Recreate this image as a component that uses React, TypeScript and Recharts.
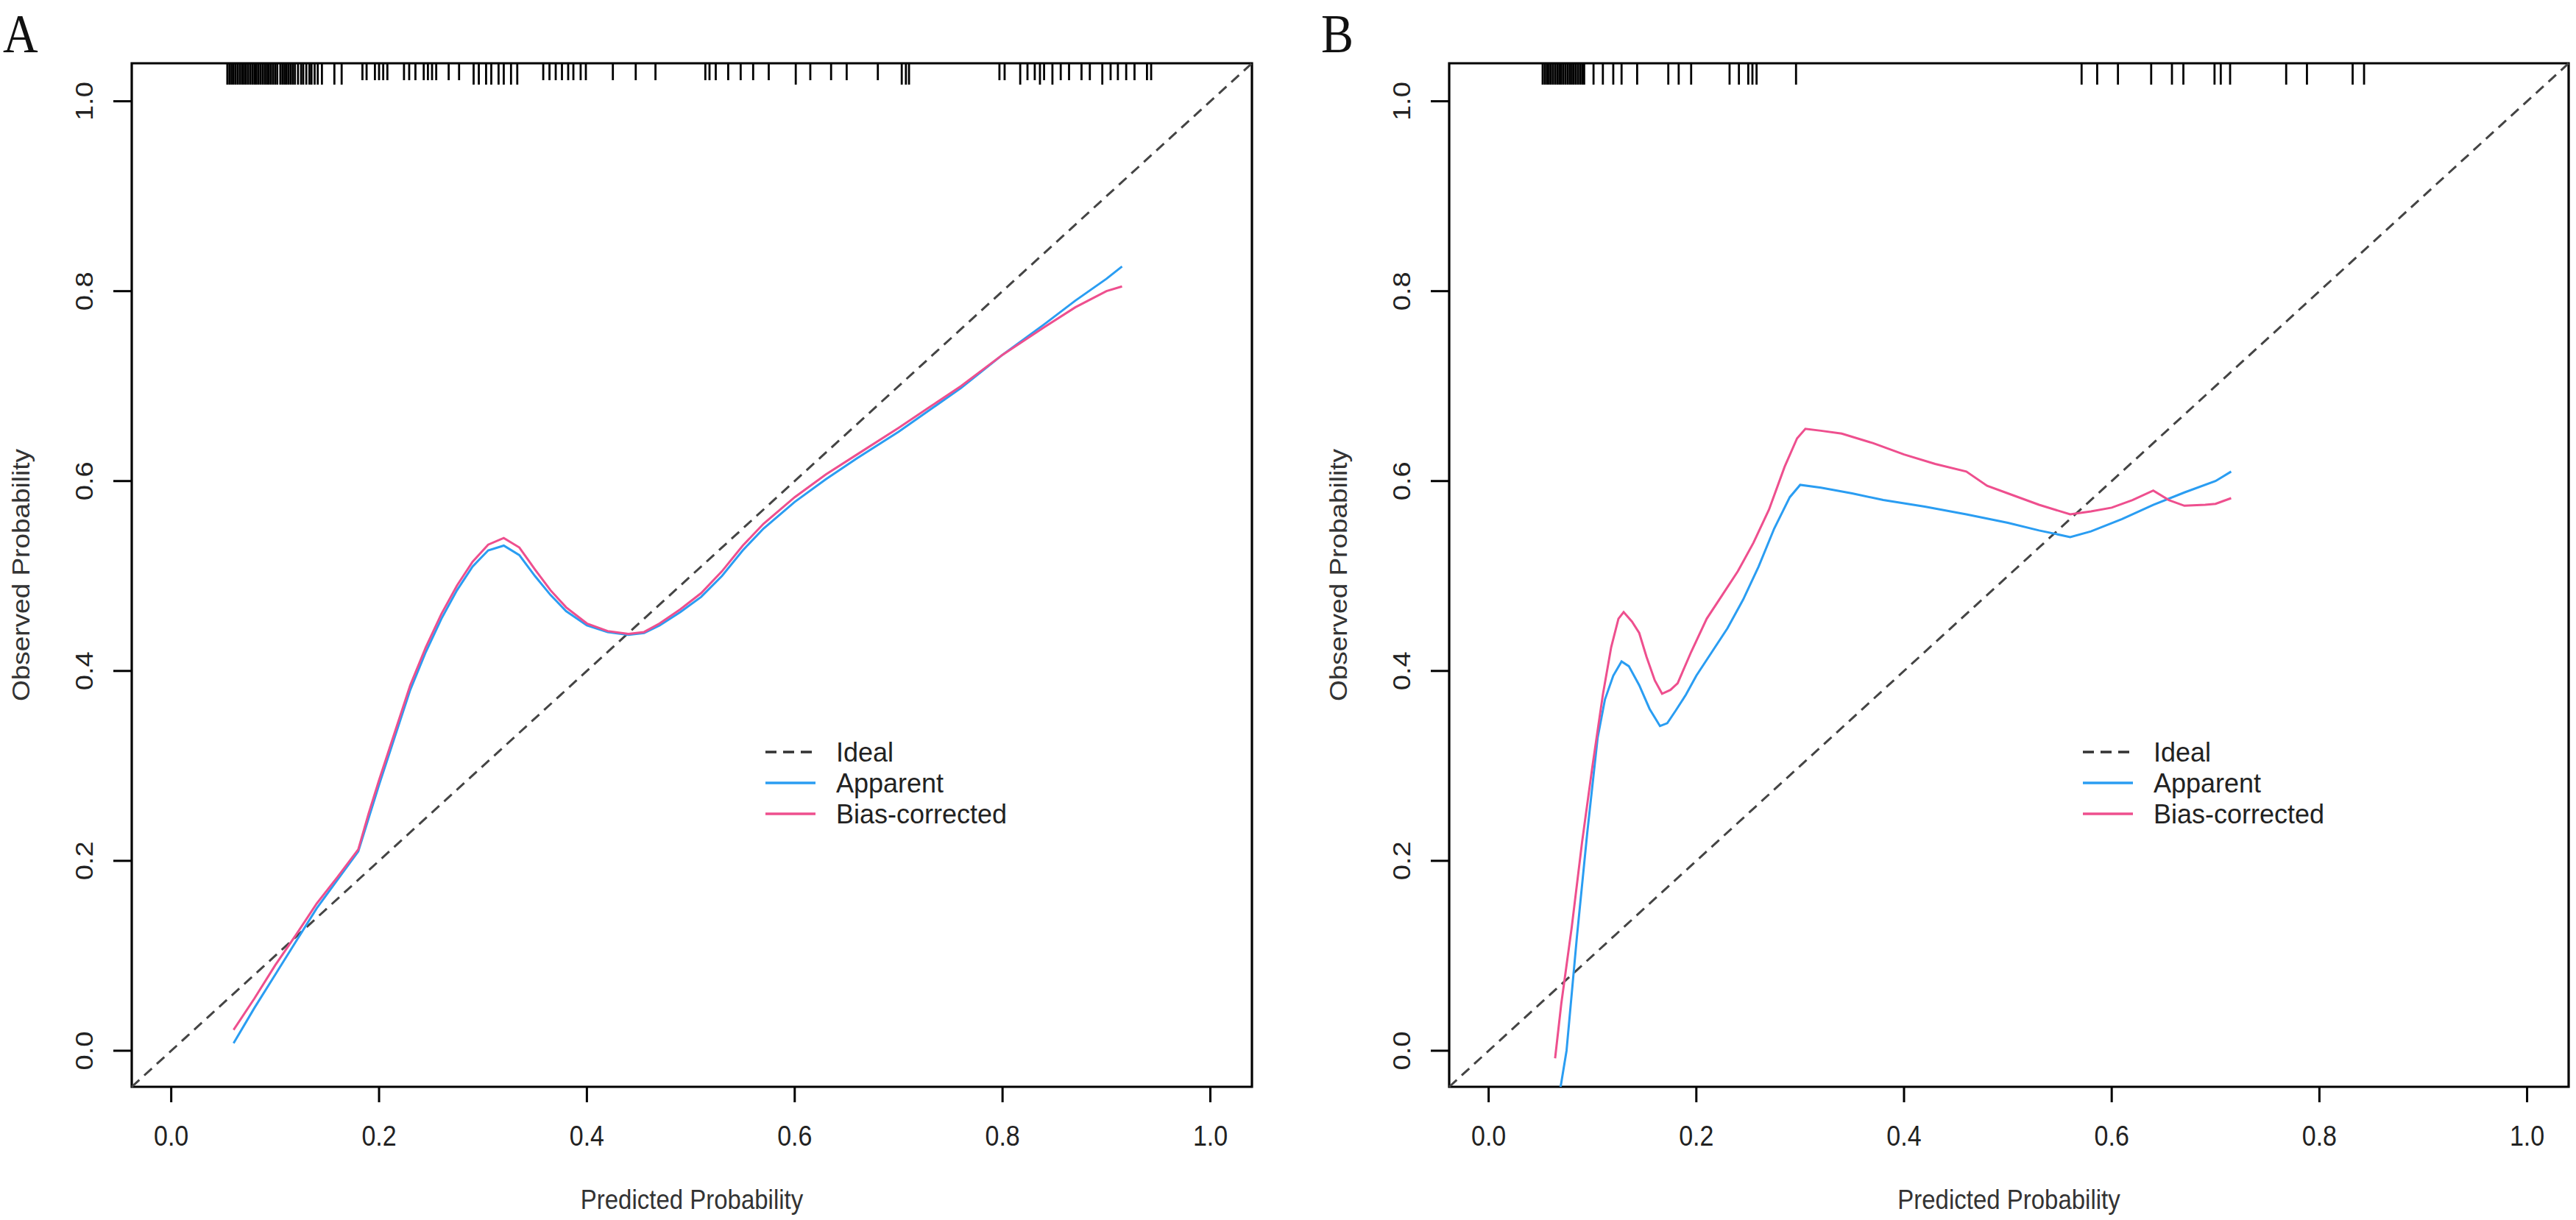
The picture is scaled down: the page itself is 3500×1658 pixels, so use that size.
import React from "react";
import { ComposedChart, Line, Scatter, XAxis, YAxis, ReferenceLine, ReferenceArea, Legend } from "recharts";

// axis range (R adds 4% on each side of 0..1)
const LO = -0.038;
const HI = 1.04;
const axisTicks = [0, 0.2, 0.4, 0.6, 0.8, 1.0];
const tickLabels = ["0.0", "0.2", "0.4", "0.6", "0.8", "1.0"];
const xTitle = "Predicted Probability";
const yTitle = "Observed Probability";
const seriesNames = ["Ideal", "Apparent", "Bias-corrected"];

// panel A
const apparentA = [
  [0.06, 0.008], [0.08, 0.045], [0.1, 0.08], [0.12, 0.115], [0.14, 0.15], [0.16, 0.18], [0.18, 0.21],
  [0.19, 0.245], [0.2, 0.28], [0.215, 0.33], [0.23, 0.38], [0.245, 0.42], [0.26, 0.455], [0.275, 0.485],
  [0.29, 0.51], [0.305, 0.527], [0.32, 0.532], [0.335, 0.522], [0.35, 0.5], [0.365, 0.48], [0.38, 0.463],
  [0.4, 0.448], [0.42, 0.441], [0.44, 0.438], [0.455, 0.44], [0.47, 0.448], [0.49, 0.462], [0.51, 0.478],
  [0.53, 0.5], [0.55, 0.527], [0.57, 0.55], [0.6, 0.578], [0.63, 0.602], [0.66, 0.624], [0.7, 0.652],
  [0.73, 0.675], [0.76, 0.698], [0.8, 0.733], [0.84, 0.765], [0.87, 0.79], [0.9, 0.813], [0.915, 0.826],
];
const correctedA = [
  [0.06, 0.022], [0.08, 0.055], [0.1, 0.09], [0.12, 0.122], [0.14, 0.155], [0.16, 0.183], [0.18, 0.212],
  [0.19, 0.25], [0.2, 0.285], [0.215, 0.335], [0.23, 0.385], [0.245, 0.425], [0.26, 0.46], [0.275, 0.49],
  [0.29, 0.515], [0.305, 0.533], [0.32, 0.54], [0.335, 0.53], [0.35, 0.507], [0.365, 0.485], [0.38, 0.467],
  [0.4, 0.45], [0.42, 0.442], [0.44, 0.439], [0.455, 0.441], [0.47, 0.45], [0.49, 0.465], [0.51, 0.482],
  [0.53, 0.505], [0.55, 0.532], [0.57, 0.555], [0.6, 0.583], [0.63, 0.607], [0.66, 0.628], [0.7, 0.656],
  [0.73, 0.678], [0.76, 0.7], [0.8, 0.733], [0.84, 0.762], [0.87, 0.783], [0.9, 0.8], [0.915, 0.805],
];
const rugA = [
  0.054, 0.056, 0.058, 0.06, 0.062, 0.064, 0.066, 0.068, 0.07, 0.072, 0.074, 0.076, 0.078, 0.08, 0.082,
  0.084, 0.086, 0.088, 0.09, 0.092, 0.094, 0.096, 0.098, 0.1, 0.102, 0.105, 0.107, 0.109, 0.111, 0.113,
  0.115, 0.117, 0.119, 0.122, 0.125, 0.127, 0.13, 0.133, 0.135, 0.138, 0.141, 0.145, 0.157, 0.164,
  0.291, 0.296, 0.303, 0.308, 0.315, 0.32, 0.327, 0.333, 0.601, 0.703, 0.707, 0.71, 0.817, 0.836, 0.848,
  0.896,
];
const rugAShort = [
  0.184, 0.188, 0.196, 0.2, 0.204, 0.208, 0.224, 0.229, 0.235, 0.243, 0.247, 0.251, 0.255, 0.267, 0.277,
  0.358, 0.364, 0.37, 0.376, 0.382, 0.387, 0.394, 0.399, 0.425, 0.447, 0.466, 0.514, 0.518, 0.524, 0.536,
  0.548, 0.56, 0.575, 0.615, 0.635, 0.65, 0.68, 0.797, 0.802, 0.824, 0.831, 0.84, 0.856, 0.864, 0.876,
  0.884, 0.904, 0.911, 0.919, 0.927, 0.939, 0.943,
];

// panel B
const apparentB = [
  [0.066, -0.06], [0.075, 0.0], [0.085, 0.12], [0.095, 0.23], [0.105, 0.33], [0.112, 0.37], [0.12, 0.395],
  [0.128, 0.41], [0.135, 0.405], [0.145, 0.385], [0.155, 0.36], [0.165, 0.342], [0.172, 0.345], [0.18, 0.358],
  [0.19, 0.375], [0.2, 0.395], [0.215, 0.42], [0.23, 0.445], [0.245, 0.475], [0.26, 0.51], [0.275, 0.55],
  [0.29, 0.583], [0.3, 0.596], [0.32, 0.593], [0.35, 0.587], [0.38, 0.58], [0.42, 0.573], [0.46, 0.565],
  [0.5, 0.556], [0.53, 0.548], [0.56, 0.541], [0.58, 0.547], [0.61, 0.56], [0.64, 0.575], [0.67, 0.588],
  [0.7, 0.6], [0.715, 0.61],
];
const correctedB = [
  [0.064, -0.008], [0.07, 0.05], [0.08, 0.13], [0.09, 0.22], [0.1, 0.3], [0.11, 0.375], [0.118, 0.425],
  [0.125, 0.455], [0.13, 0.462], [0.138, 0.452], [0.145, 0.44], [0.152, 0.415], [0.16, 0.39], [0.167, 0.376],
  [0.175, 0.38], [0.182, 0.387], [0.195, 0.42], [0.21, 0.455], [0.225, 0.48], [0.24, 0.505], [0.255, 0.535],
  [0.27, 0.57], [0.285, 0.615], [0.297, 0.645], [0.305, 0.655], [0.32, 0.653], [0.34, 0.65], [0.37, 0.64],
  [0.4, 0.628], [0.43, 0.618], [0.46, 0.61], [0.48, 0.595], [0.5, 0.587], [0.53, 0.575], [0.56, 0.565],
  [0.58, 0.568], [0.6, 0.572], [0.62, 0.58], [0.64, 0.59], [0.655, 0.58], [0.67, 0.574], [0.69, 0.575],
  [0.7, 0.576], [0.715, 0.582],
];
const rugB = [
  0.052, 0.054, 0.056, 0.058, 0.06, 0.062, 0.064, 0.066, 0.068, 0.07, 0.072, 0.074, 0.076, 0.078, 0.08,
  0.082, 0.084, 0.086, 0.088, 0.09, 0.092, 0.101, 0.11, 0.12, 0.128, 0.143, 0.173, 0.183, 0.195, 0.232,
  0.241, 0.25, 0.254, 0.258, 0.296, 0.571, 0.586, 0.606, 0.638, 0.658, 0.669, 0.699, 0.705, 0.714, 0.768,
  0.788, 0.832, 0.843,
];
const rugBShort: number[] = [];

const BLUE = "#2A9DF2";
const PINK = "#EE4F8E";
const FONT = '"Liberation Sans", Arial, sans-serif';
const SERIF = '"Liberation Serif", "Times New Roman", serif';
const S = 1.12; // the source figure is slightly stretched vertically

const toPts = (arr: number[][]) => arr.map(([x, y]) => ({ x, y }));
const toRug = (arr: number[]) => arr.map((x) => ({ x, y: HI }));

const XTick = (props: any) => {
  const { x, y, payload } = props;
  const i = axisTicks.indexOf(payload.value);
  return (
    <g transform={`translate(${x},${y + 46})`}>
      <text transform={`scale(1,${S})`} textAnchor="middle" dominantBaseline="central" fontFamily={FONT} fontSize={34} fill="#222">
        {tickLabels[i]}
      </text>
    </g>
  );
};

const YTick = (props: any) => {
  const { x, y, payload } = props;
  const i = axisTicks.indexOf(payload.value);
  return (
    <g transform={`translate(${x - 40},${y}) rotate(-90)`}>
      <text transform={`scale(${S},1)`} textAnchor="middle" dominantBaseline="central" fontFamily={FONT} fontSize={34} fill="#222">
        {tickLabels[i]}
      </text>
    </g>
  );
};

const rugShape = (len: number) => (props: any) => {
  const { cx, cy } = props;
  return <line x1={cx} y1={cy} x2={cx} y2={cy + len} stroke="#000" strokeWidth={2.8} />;
};

const legendItems = [
  { name: seriesNames[0], color: "#333", dash: "15 9" },
  { name: seriesNames[1], color: BLUE, dash: undefined },
  { name: seriesNames[2], color: PINK, dash: undefined },
];

const renderLegend = () => (
  <svg width={460} height={150}>
    {legendItems.map((it, i) => (
      <g key={it.name} transform={`translate(0,${32 + i * 42})`}>
        <line x1={10} x2={78} y1={0} y2={0} stroke={it.color} strokeWidth={3.5} strokeDasharray={it.dash} />
        <text x={106} y={0} dominantBaseline="central" fontFamily={FONT} fontSize={36} fill="#222">
          {it.name}
        </text>
      </g>
    ))}
  </svg>
);

type PanelProps = {
  left: number;
  yAxisWidth: number;
  marginRight: number;
  yTitleX: number;
  legendLeft: number;
  apparent: number[][];
  corrected: number[][];
  rug: number[];
  rugShort: number[];
};

const Panel = ({ left, yAxisWidth, marginRight, yTitleX, legendLeft, apparent, corrected, rug, rugShort }: PanelProps) => (
  <div style={{ position: "absolute", left, top: 0 }}>
    <ComposedChart width={1750} height={1658} margin={{ top: 86, right: marginRight, bottom: 0, left: 0 }}>
      <XAxis
        type="number"
        dataKey="x"
        domain={[LO, HI]}
        ticks={axisTicks}
        allowDataOverflow
        height={181}
        axisLine={false}
        tickSize={21}
        tickMargin={0}
        tickLine={{ stroke: "#000", strokeWidth: 3 }}
        tick={<XTick />}
        label={(p: any) => {
          const vb = p.viewBox;
          return (
            <g transform={`translate(${vb.x + vb.width / 2},${vb.y + 153})`}>
              <text transform={`scale(1,${S})`} textAnchor="middle" dominantBaseline="central" fontFamily={FONT} fontSize={33} fill="#333">
                {xTitle}
              </text>
            </g>
          );
        }}
      />
      <YAxis
        type="number"
        dataKey="y"
        domain={[LO, HI]}
        ticks={axisTicks}
        allowDataOverflow
        width={yAxisWidth}
        axisLine={false}
        tickSize={25}
        tickMargin={0}
        tickLine={{ stroke: "#000", strokeWidth: 3 }}
        tick={<YTick />}
        label={(p: any) => {
          const vb = p.viewBox;
          return (
            <g transform={`translate(${vb.x + yTitleX},${vb.y + vb.height / 2}) rotate(-90)`}>
              <text transform={`scale(${S},1)`} textAnchor="middle" dominantBaseline="central" fontFamily={FONT} fontSize={33} fill="#333">
                {yTitle}
              </text>
            </g>
          );
        }}
      />
      <ReferenceLine
        segment={[{ x: LO, y: LO }, { x: HI, y: HI }]}
        stroke="#444"
        strokeWidth={3}
        strokeDasharray="14 9"
      />
      <Line data={toPts(apparent)} dataKey="y" name={seriesNames[1]} type="linear" stroke={BLUE} strokeWidth={3} dot={false} isAnimationActive={false} />
      <Line data={toPts(corrected)} dataKey="y" name={seriesNames[2]} type="linear" stroke={PINK} strokeWidth={3} dot={false} isAnimationActive={false} />
      <ReferenceArea x1={LO} x2={HI} y1={LO} y2={HI} fill="none" fillOpacity={0} stroke="#000" strokeWidth={3.2} />
      <Scatter data={toRug(rug)} dataKey="y" shape={rugShape(29)} isAnimationActive={false} />
      <Scatter data={toRug(rugShort)} dataKey="y" shape={rugShape(23)} isAnimationActive={false} />
      <Legend
        layout="horizontal"
        verticalAlign="middle"
        align="center"
        content={renderLegend}
        wrapperStyle={{ left: legendLeft, top: 990, width: 460, height: 150 }}
      />
    </ComposedChart>
  </div>
);

export default function App() {
  return (
    <div style={{ position: "absolute", left: 0, top: 0, width: 3500, height: 1658, background: "#fff" }}>
      <Panel left={0} yAxisWidth={179} marginRight={49} yTitleX={28} legendLeft={1030}
        apparent={apparentA} corrected={correctedA} rug={rugA} rugShort={rugAShort} />
      <Panel left={1750} yAxisWidth={219} marginRight={10} yTitleX={68} legendLeft={1070}
        apparent={apparentB} corrected={correctedB} rug={rugB} rugShort={rugBShort} />
      <svg width={3500} height={100} style={{ position: "absolute", left: 0, top: 0, pointerEvents: "none" }}>
        <g transform="translate(4,71)">
          <text transform={`scale(1,${S})`} fontFamily={SERIF} fontSize={66} fill="#111">A</text>
        </g>
        <g transform="translate(1795,71)">
          <text transform={`scale(1,${S})`} fontFamily={SERIF} fontSize={66} fill="#111">B</text>
        </g>
      </svg>
    </div>
  );
}
